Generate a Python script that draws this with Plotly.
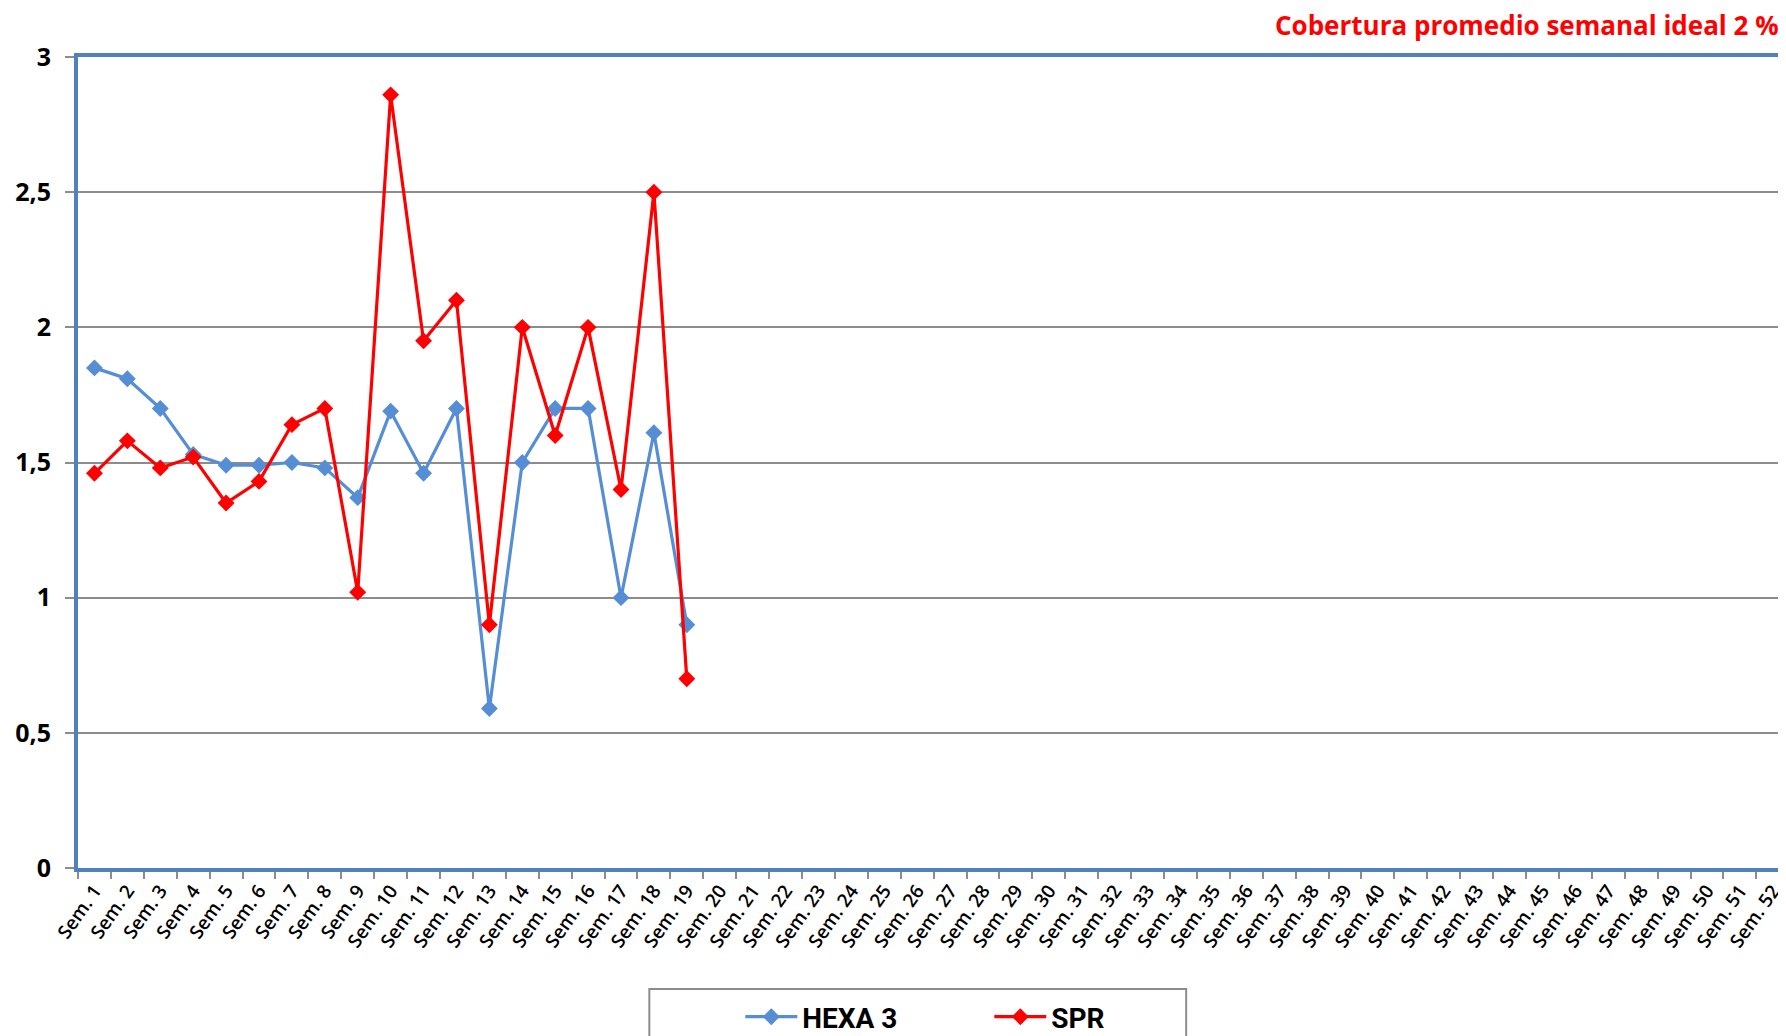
import plotly.graph_objects as go

weeks = [f"Sem. {i}" for i in range(1, 53)]
hexa3 = [1.85, 1.81, 1.70, 1.53, 1.49, 1.49, 1.50, 1.48, 1.37, 1.69,
         1.46, 1.70, 0.59, 1.50, 1.70, 1.70, 1.00, 1.61, 0.90]
spr = [1.46, 1.58, 1.48, 1.52, 1.35, 1.43, 1.64, 1.70, 1.02, 2.86,
       1.95, 2.10, 0.90, 2.00, 1.60, 2.00, 1.40, 2.50, 0.70]
y_ticks = [0, 0.5, 1, 1.5, 2, 2.5, 3]
title_text = "Cobertura promedio semanal ideal 2 %"

# page body has an 8px default margin; work in window coordinates
OFF = 8
W, H = 1786 - OFF, 1036 - OFF
ML = 77.5 - OFF
MT = 57 - OFF
MB = H - (868 - OFF)
MR = 0
PW = W - ML - MR
PH = H - MT - MB

def px_x(wx):
    return (wx - OFF - ML) / PW

def px_y(wy):
    return (H - MB - (wy - OFF)) / PH

blue = "#558ED5"
red = "#FF0000"
axis_blue = "#4F81BD"
grid = "#8C8C8C"
font_main = "Open Sans, Lato, sans-serif"

fig = go.Figure()
fig.add_trace(go.Scatter(
    x=weeks[:len(hexa3)], y=hexa3, name="HEXA 3", mode="lines+markers",
    line=dict(color=blue, width=3.2),
    marker=dict(symbol="diamond", size=13, color=blue),
))
fig.add_trace(go.Scatter(
    x=weeks[:len(spr)], y=spr, name="SPR", mode="lines+markers",
    line=dict(color=red, width=3.2),
    marker=dict(symbol="diamond", size=13, color=red),
))

fig.update_xaxes(
    type="category", categoryorder="array", categoryarray=weeks,
    range=[-0.5, 51.4], tickmode="array", tickvals=weeks, ticktext=weeks,
    tickangle=-55, tickson="boundaries", ticks="outside", ticklen=7,
    tickcolor=grid, tickwidth=2,
    showline=True, linecolor=axis_blue, linewidth=4, mirror=True,
    showgrid=False, zeroline=False,
    tickfont=dict(family=font_main, size=19, color="black", weight=600),
)
fig.update_yaxes(
    range=[0, 3], tickvals=y_ticks, ticks="outside", ticklen=9,
    tickcolor=grid, tickwidth=2, ticklabelstandoff=9,
    showline=True, linecolor=axis_blue, linewidth=4, mirror=False,
    showgrid=True, gridcolor=grid, gridwidth=2, zeroline=False,
    tickfont=dict(family=font_main, size=25, color="black", weight="bold"),
)

fig.add_annotation(
    text=title_text, xref="paper", yref="paper",
    x=px_x(1781), y=px_y(25), xanchor="right", yanchor="middle",
    showarrow=False,
    font=dict(family=font_main, size=26, color=red, weight="bold"),
)

# legend frame
fig.add_shape(
    type="rect", xref="paper", yref="paper",
    x0=px_x(649), x1=px_x(1186), y0=px_y(989), y1=px_y(1080),
    line=dict(color="#8C8C8C", width=2), fillcolor="rgba(0,0,0,0)",
)

fig.update_layout(
    width=W, height=H,
    margin=dict(l=ML, r=MR, t=MT, b=MB, autoexpand=False),
    paper_bgcolor="white", plot_bgcolor="white",
    separators=",.",
    showlegend=True,
    legend=dict(
        orientation="h", x=px_x(740), xanchor="left",
        y=px_y(992), yanchor="top",
        itemwidth=52,
        entrywidth=182, entrywidthmode="pixels",
        bgcolor="rgba(0,0,0,0)", borderwidth=0,
        font=dict(family="Liberation Sans Narrow, Roboto, sans-serif",
                  size=28, color="black", weight="bold"),
    ),
)

fig.write_html("out.html")
